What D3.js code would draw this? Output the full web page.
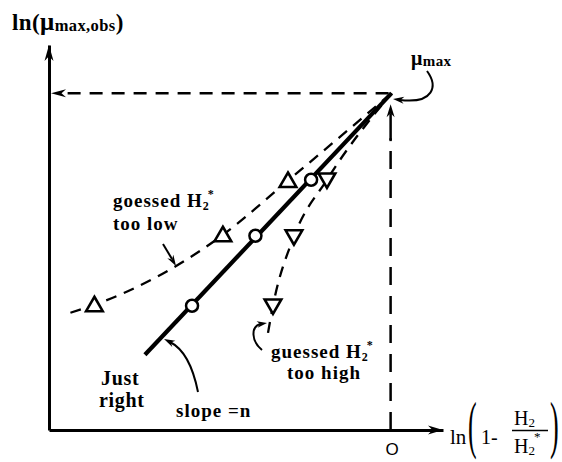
<!DOCTYPE html>
<html><head><meta charset="utf-8">
<script src="https://cdn.jsdelivr.net/npm/d3@7"></script>
<style>body{margin:0;background:#fff}svg{display:block}</style>
</head><body>
<script>
// ---- data ----
const xDomain = [-4, 0.6];
const yDomain = [0, 4.4];
const xTickValues = [0];
const xTickLabels = ["O"];
const apex = [0, 3.85];
const justRightLineX = [-2.88, 0];
const justRightLineY = [0.86, 3.85];
const justRightX = [-2.33, -1.59, -0.94];
const justRightY = [1.42, 2.22, 2.86];
const tooLowX = [-3.47, -1.97, -1.21];
const tooLowY = [1.43, 2.23, 2.85];
const tooLowCurveX = [-3.75, -3.47, -1.97, -1.21, 0];
const tooLowCurveY = [1.34, 1.43, 2.23, 2.85, 3.85];
const tooHighX = [-1.385, -1.14, -0.755];
const tooHighY = [1.42, 2.21, 2.86];
const tooHighCurveX = [-1.443, -1.385, -1.14, -0.755, 0];
const tooHighCurveY = [1.11, 1.42, 2.21, 2.86, 3.85];

const W = 562, H = 462;
const svg = d3.select("body").append("svg").attr("width", W).attr("height", H)
  .style("font-family", "'Liberation Serif','Times New Roman',serif");

const x = d3.scaleLinear().domain(xDomain).range([49, 443]);
const y = d3.scaleLinear().domain(yDomain).range([430, 45]);

function arrowHead(tx, ty, ang, len, hw) {
  const c = Math.cos(ang), s = Math.sin(ang);
  const bx = tx - c * len, by = ty - s * len;
  const mx = tx - c * len * 0.7, my = ty - s * len * 0.7;
  return `M${tx},${ty}L${bx - s * hw},${by + c * hw}L${mx},${my}L${bx + s * hw},${by - c * hw}Z`;
}

// axes
const gx = svg.append("g").attr("transform", `translate(0,${y.range()[0]})`)
  .call(d3.axisBottom(x).tickValues(xTickValues).tickFormat((d, i) => xTickLabels[i])
    .tickSize(0).tickSizeOuter(0).tickPadding(13));
gx.select(".domain").attr("stroke", "#000").attr("stroke-width", 3);
gx.selectAll("text").attr("font-family", "'Liberation Sans',Arial,sans-serif").attr("font-size", 17).attr("fill", "#000");

const gy = svg.append("g").attr("transform", `translate(${x.range()[0]},0)`)
  .call(d3.axisLeft(y).tickValues([]).tickSize(0).tickSizeOuter(0));
gy.select(".domain").attr("stroke", "#000").attr("stroke-width", 3);

svg.append("path").attr("d", arrowHead(x.range()[1], y.range()[0], 0, 15, 4.5)).attr("fill", "#000");
svg.append("path").attr("d", arrowHead(x.range()[0], y.range()[1], -Math.PI / 2, 16, 4.5)).attr("fill", "#000");

// dashed guide lines
const ax = x(apex[0]), ay = y(apex[1]);
svg.append("line").attr("x1", ax - 3).attr("y1", ay).attr("x2", x.range()[0] + 14).attr("y2", ay)
  .attr("stroke", "#000").attr("stroke-width", 2.5).attr("stroke-dasharray", "13,9");
svg.append("path").attr("d", arrowHead(x.range()[0] + 2, ay, Math.PI, 15, 4)).attr("fill", "#000");
svg.append("line").attr("x1", ax - 1).attr("y1", y.range()[0]).attr("x2", ax - 1).attr("y2", ay + 45)
  .attr("stroke", "#000").attr("stroke-width", 2.5).attr("stroke-dasharray", "18,11");
svg.append("line").attr("x1", ax - 1).attr("y1", ay + 48).attr("x2", ax - 1).attr("y2", ay + 20)
  .attr("stroke", "#000").attr("stroke-width", 2.5);
svg.append("path").attr("d", arrowHead(ax - 1, ay + 11, -Math.PI / 2, 13, 4)).attr("fill", "#000");

// curves
const line = d3.line().x(d => x(d[0])).y(d => y(d[1]));
const curve = d3.line().x(d => x(d[0])).y(d => y(d[1])).curve(d3.curveMonotoneX);
svg.append("path").attr("d", curve(tooLowCurveX.map((v, i) => [v, tooLowCurveY[i]])))
  .attr("fill", "none").attr("stroke", "#000").attr("stroke-width", 2.3).attr("stroke-dasharray", "11,8");
svg.append("path").attr("d", curve(tooHighCurveX.map((v, i) => [v, tooHighCurveY[i]])))
  .attr("fill", "none").attr("stroke", "#000").attr("stroke-width", 2.3).attr("stroke-dasharray", "11,8");
svg.append("path").attr("d", line(justRightLineX.map((v, i) => [v, justRightLineY[i]])))
  .attr("fill", "none").attr("stroke", "#000").attr("stroke-width", 4.2);

// markers
const triUp = d3.symbol(d3.symbolTriangle, 120);
svg.selectAll(".tu").data(tooLowX.map((v, i) => [v, tooLowY[i]])).join("path")
  .attr("d", triUp).attr("transform", d => `translate(${x(d[0])},${y(d[1]) + 1.5})`)
  .attr("fill", "#fff").attr("stroke", "#000").attr("stroke-width", 2.6);
svg.selectAll(".td").data(tooHighX.map((v, i) => [v, tooHighY[i]])).join("path")
  .attr("d", triUp).attr("transform", d => `translate(${x(d[0])},${y(d[1]) - 1.5}) rotate(180)`)
  .attr("fill", "#fff").attr("stroke", "#000").attr("stroke-width", 2.6);
svg.selectAll(".cc").data(justRightX.map((v, i) => [v, justRightY[i]])).join("circle")
  .attr("cx", d => x(d[0])).attr("cy", d => y(d[1])).attr("r", 6)
  .attr("fill", "#fff").attr("stroke", "#000").attr("stroke-width", 2.5);

// annotation pointers
const ptr = svg.append("g").attr("fill", "none").attr("stroke", "#000").attr("stroke-width", 2);
ptr.append("path").attr("d", "M427,71 C438,86 434,104 400,100");
svg.append("path").attr("d", arrowHead(393, 99, Math.PI + 0.12, 11, 3.5)).attr("fill", "#000");
ptr.append("path").attr("d", "M163,244 L172,259");
svg.append("path").attr("d", arrowHead(176, 266, Math.atan2(15, 9), 11, 3.5)).attr("fill", "#000");
ptr.append("path").attr("d", "M198,392 Q190,352 170,342");
svg.append("path").attr("d", arrowHead(164, 339, Math.atan2(-6, -12), 11, 3.5)).attr("fill", "#000");
ptr.append("path").attr("d", "M262,350 C251,341 251,327 260,324");
svg.append("path").attr("d", arrowHead(267, 323, -0.15, 10, 3.2)).attr("fill", "#000");

// text
const T = svg.append("g").attr("font-weight", "bold").attr("fill", "#000");
const t1 = T.append("text").attr("x", 12).attr("y", 30).attr("font-size", 23).attr("letter-spacing", 0.4);
t1.append("tspan").text("ln(");
t1.append("tspan").text("μ").attr("font-size", 25);
t1.append("tspan").text("max,obs").attr("font-size", 16.5).attr("dy", 1);
t1.append("tspan").text(")").attr("dy", -1);

const t2 = T.append("text").attr("x", 411).attr("y", 65).attr("font-size", 20).attr("letter-spacing", 0.4);
t2.append("tspan").text("μ");
t2.append("tspan").text("max").attr("font-size", 15).attr("dy", 1);

function guessLabel(xx, yy, word) {
  const t = T.append("text").attr("x", xx).attr("y", yy).attr("font-size", 19).attr("letter-spacing", 1);
  t.append("tspan").text(word + " H");
  t.append("tspan").text("2").attr("font-size", 12).attr("dy", 3);
  t.append("tspan").text("*").attr("font-size", 12).attr("dy", -12).attr("dx", -2);
}
guessLabel(113, 207, "goessed");
T.append("text").attr("x", 113).attr("y", 230).attr("font-size", 19).attr("letter-spacing", 1).text("too low");
guessLabel(271, 358, "guessed");
T.append("text").attr("x", 287).attr("y", 379).attr("font-size", 19).attr("letter-spacing", 1).text("too high");
T.append("text").attr("x", 101).attr("y", 385).attr("font-size", 20).attr("letter-spacing", 0.7).text("Just");
T.append("text").attr("x", 99).attr("y", 407).attr("font-size", 20).attr("letter-spacing", 0.7).text("right");
T.append("text").attr("x", 176).attr("y", 417).attr("font-size", 19).attr("letter-spacing", 1).text("slope =n");

// x-axis label
const L = svg.append("g").attr("fill", "#000");
L.append("text").attr("x", 450).attr("y", 444).attr("font-size", 21).text("ln");
L.append("text").attr("transform", "translate(468,446) scale(1,2.4)").attr("font-size", 26).text("(");
L.append("text").attr("x", 481).attr("y", 444).attr("font-size", 20).text("1-");
const num = L.append("text").attr("x", 514).attr("y", 425).attr("font-size", 20);
num.append("tspan").text("H");
num.append("tspan").text("2").attr("font-size", 13).attr("dy", 2);
L.append("line").attr("x1", 512).attr("x2", 548).attr("y1", 430.5).attr("y2", 430.5).attr("stroke", "#000").attr("stroke-width", 1.5);
const den = L.append("text").attr("x", 514).attr("y", 453).attr("font-size", 20);
den.append("tspan").text("H");
den.append("tspan").text("2").attr("font-size", 13).attr("dy", 2);
den.append("tspan").text("*").attr("font-size", 13).attr("dx", -1).attr("dy", -14);
L.append("text").attr("transform", "translate(550,446) scale(1,2.4)").attr("font-size", 26).text(")");
</script>
</body></html>
